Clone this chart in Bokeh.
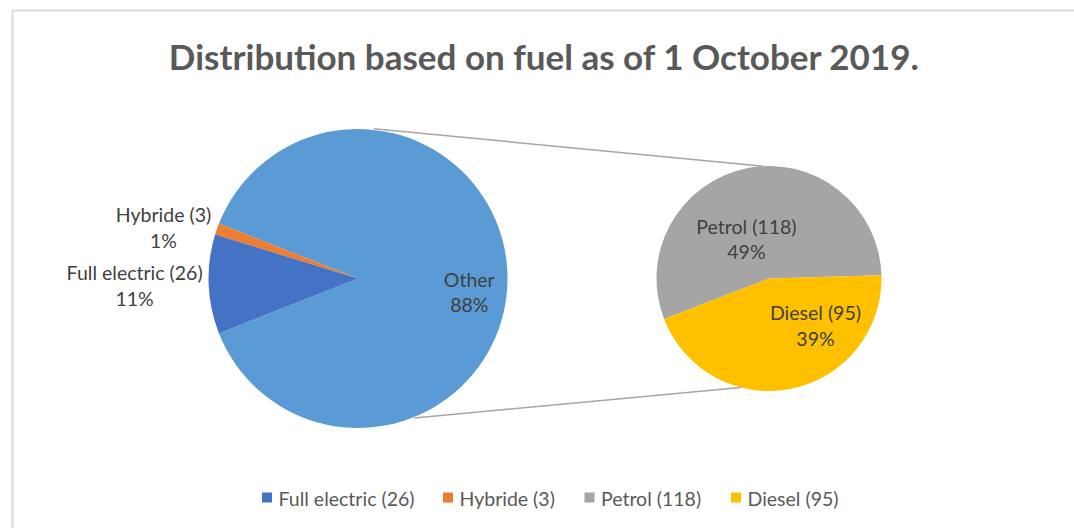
import math
from bokeh.plotting import figure
from bokeh.models import Range1d
from bokeh.core.properties import value
from bokeh.embed import file_html
from bokeh.resources import INLINE

# ---------------- data ----------------
title = "Distribution based on fuel as of 1 October 2019."
main_names = ["Other", "Hybride (3)", "Full electric (26)"]
main_values = [213, 3, 26]
sec_names = ["Petrol (118)", "Diesel (95)"]
sec_values = [118, 95]
legend_names = ["Full electric (26)", "Hybride (3)", "Petrol (118)", "Diesel (95)"]
total = sum(main_values)

# ---------------- style ----------------
W, H = 1074, 528
FONT = "Lato"
main_colors = ["#5B9BD5", "#ED7D31", "#4472C4"]
sec_colors = ["#A5A5A5", "#FFC000"]
legend_colors = ["#4472C4", "#ED7D31", "#A5A5A5", "#FFC000"]

def X(px):
    return px

def Y(py):
    return H - py

mc = (X(357.5), Y(278)); mr = 149.5
sc = (X(768.5), Y(278)); sr = 112.5

p = figure(width=W, height=H, output_backend="svg", toolbar_location=None,
           x_range=Range1d(0, W), y_range=Range1d(0, H), min_border=0)
p.axis.visible = False
p.grid.visible = False
p.outline_line_color = None
p.background_fill_color = "white"

# frame
p.line([X(12), X(12), X(1074)], [Y(528), Y(10), Y(10)], line_color="#D9D9D9", line_width=2)

# main pie
other_ang = main_values[0] / total * 2 * math.pi
start = -other_ang / 2
m_starts, m_ends = [], []
a = start
for v in main_values:
    m_starts.append(a)
    a += v / total * 2 * math.pi
    m_ends.append(a)
p.wedge(x=mc[0], y=mc[1], radius=mr, start_angle=m_starts, end_angle=m_ends,
        fill_color=main_colors, line_color=None)

# secondary pie
sec_total = sum(sec_values)
s_start = math.radians(1.7)
s_starts, s_ends = [], []
a = s_start
for v in sec_values:
    s_starts.append(a)
    a += v / sec_total * 2 * math.pi
    s_ends.append(a)
p.wedge(x=sc[0], y=sc[1], radius=sr, start_angle=s_starts, end_angle=s_ends,
        fill_color=sec_colors, line_color=None)

# connector lines
def pt(c, r, deg):
    return c[0] + r * math.cos(math.radians(deg)), c[1] + r * math.sin(math.radians(deg))

for a1, a2 in [(84, 92.8), (-68, -104.5)]:
    x1, y1 = pt(mc, mr + 1, a1)
    x2, y2 = pt(sc, sr, a2)
    p.line([x1, x2], [y1, y2], line_color="#A6A6A6", line_width=1.5)

# labels
def pct(v):
    return f"{round(v / total * 100)}%"

main_lab = [(-7, 0.75), (165.3, 1.345), (181.8, 1.495)]
sec_lab = [(119.7, 0.405), (-45.3, 0.587)]
LS = 12.8
for names, vals, c, r, labs in [(main_names, main_values, mc, mr, main_lab),
                                 (sec_names, sec_values, sc, sr, sec_lab)]:
    for n, v, (ang, k) in zip(names, vals, labs):
        x, y = pt(c, r * k, ang)
        p.text(x=[x, x], y=[y + LS, y - LS], text=[n, pct(v)], text_font=value(FONT),
               text_font_size="19.5px", text_color="#404040", text_align="center",
               text_baseline="middle")

# title
p.text(x=[X(544)], y=[Y(55)], text=[title], text_font=value(FONT), text_font_size="35px",
       text_font_style="bold", text_color="#595959", text_align="center", text_baseline="middle")

# legend
leg_sq_x = [266.5, 447.5, 589, 735.5]
for name, col, sx in zip(legend_names, legend_colors, leg_sq_x):
    p.rect(x=[X(sx)], y=[Y(497)], width=10, height=10, fill_color=col, line_color=None)
    p.text(x=[X(sx + 11.5)], y=[Y(498)], text=[name], text_font=value(FONT), text_font_size="19.5px",
           text_color="#595959", text_align="left", text_baseline="middle")

open("out.html", "w").write(file_html(p, INLINE))
